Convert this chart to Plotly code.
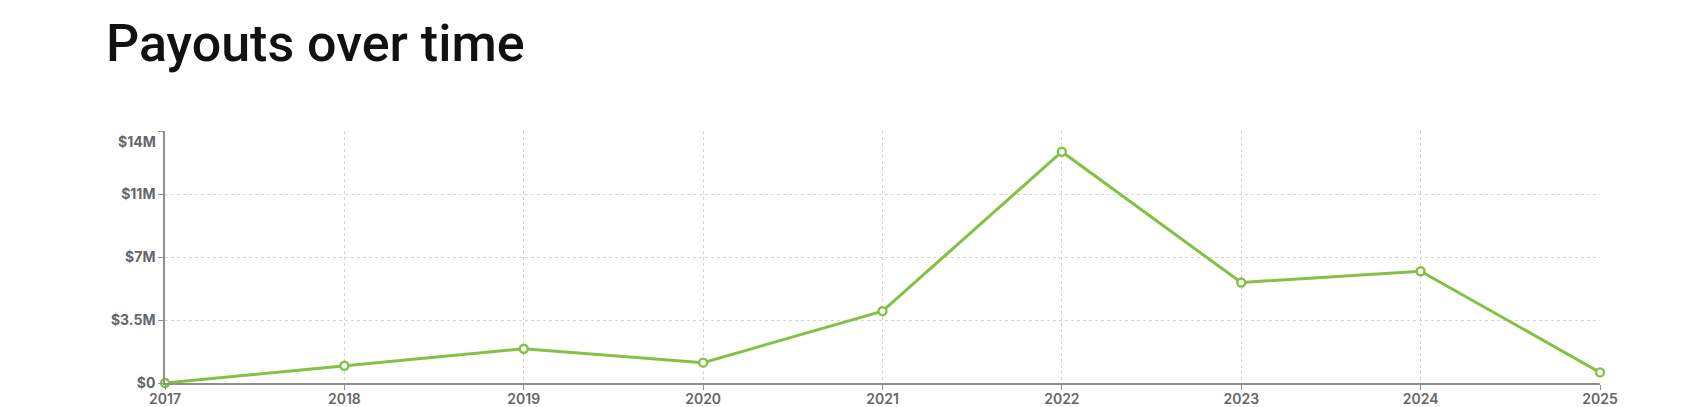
import plotly.graph_objects as go

years = [2017, 2018, 2019, 2020, 2021, 2022, 2023, 2024, 2025]
payouts_m = [0.0, 0.96, 1.90, 1.13, 3.99, 12.85, 5.58, 6.21, 0.59]

y_tick_vals_m = [0, 3.5, 7, 10.5, 14]
y_tick_text = ["$0", "$3.5M", "$7M", "$11M", "$14M"]

GREEN = "#84c043"
FONT = "Inter, Roboto, sans-serif"
TICK_FONT_X = dict(family=FONT, size=14, color="#666666", weight=600)
TICK_FONT_Y = dict(family=FONT, size=14, color="#666666", weight=700)

# page body adds an 8px offset; figure is sized to fill the rest of the window
W, H = 1692, 399

fig = go.Figure()
fig.add_trace(go.Scatter(
    x=years,
    y=[v * 1e6 for v in payouts_m],
    mode="lines+markers",
    line=dict(color=GREEN, width=3),
    marker=dict(symbol="circle", size=8, color="white",
                line=dict(color=GREEN, width=2.4)),
    cliponaxis=False,
    hoverinfo="x+y",
))

# the top tick label sits just below its gridline, as in the original
top_val = y_tick_vals_m[-1] * 1e6
fig.add_annotation(
    x=0, xref="paper", xanchor="right", xshift=-7,
    y=top_val, yref="y", yanchor="middle", yshift=-10,
    text=y_tick_text[-1], showarrow=False,
    font=TICK_FONT_Y,
)

fig.update_layout(
    width=W, height=H,
    margin=dict(l=157, r=100, t=123, b=24, autoexpand=False),
    paper_bgcolor="white", plot_bgcolor="white",
    showlegend=False,
    title=dict(
        text="Payouts over time",
        x=98 / W, xanchor="left", xref="container",
        y=1 - 35 / H, yanchor="middle", yref="container",
        font=dict(family="Roboto, Inter, sans-serif", size=52,
                  color="#111111", weight=500),
    ),
    font=dict(family=FONT, size=14, color="#666666"),
)

fig.update_xaxes(
    range=[years[0], years[-1]],
    tickvals=years, ticktext=[str(y) for y in years],
    showgrid=True, gridcolor="#d4d4d4", griddash="3px,3px", gridwidth=1,
    showline=True, linecolor="#8f8f8f", linewidth=1.5,
    ticks="outside", ticklen=5, tickcolor="#8f8f8f",
    tickfont=TICK_FONT_X, automargin=False, ticklabelstandoff=-3,
    zeroline=False, fixedrange=True,
)
fig.update_yaxes(
    range=[0, top_val],
    tickvals=[v * 1e6 for v in y_tick_vals_m],
    ticktext=y_tick_text[:-1] + [""],
    showgrid=True, gridcolor="#d4d4d4", griddash="3px,3px", gridwidth=1,
    showline=True, linecolor="#8f8f8f", linewidth=1.5,
    ticks="outside", ticklen=5, tickcolor="#8f8f8f",
    tickfont=TICK_FONT_Y, automargin=False,
    zeroline=False, fixedrange=True,
)

fig.write_html("out.html")
